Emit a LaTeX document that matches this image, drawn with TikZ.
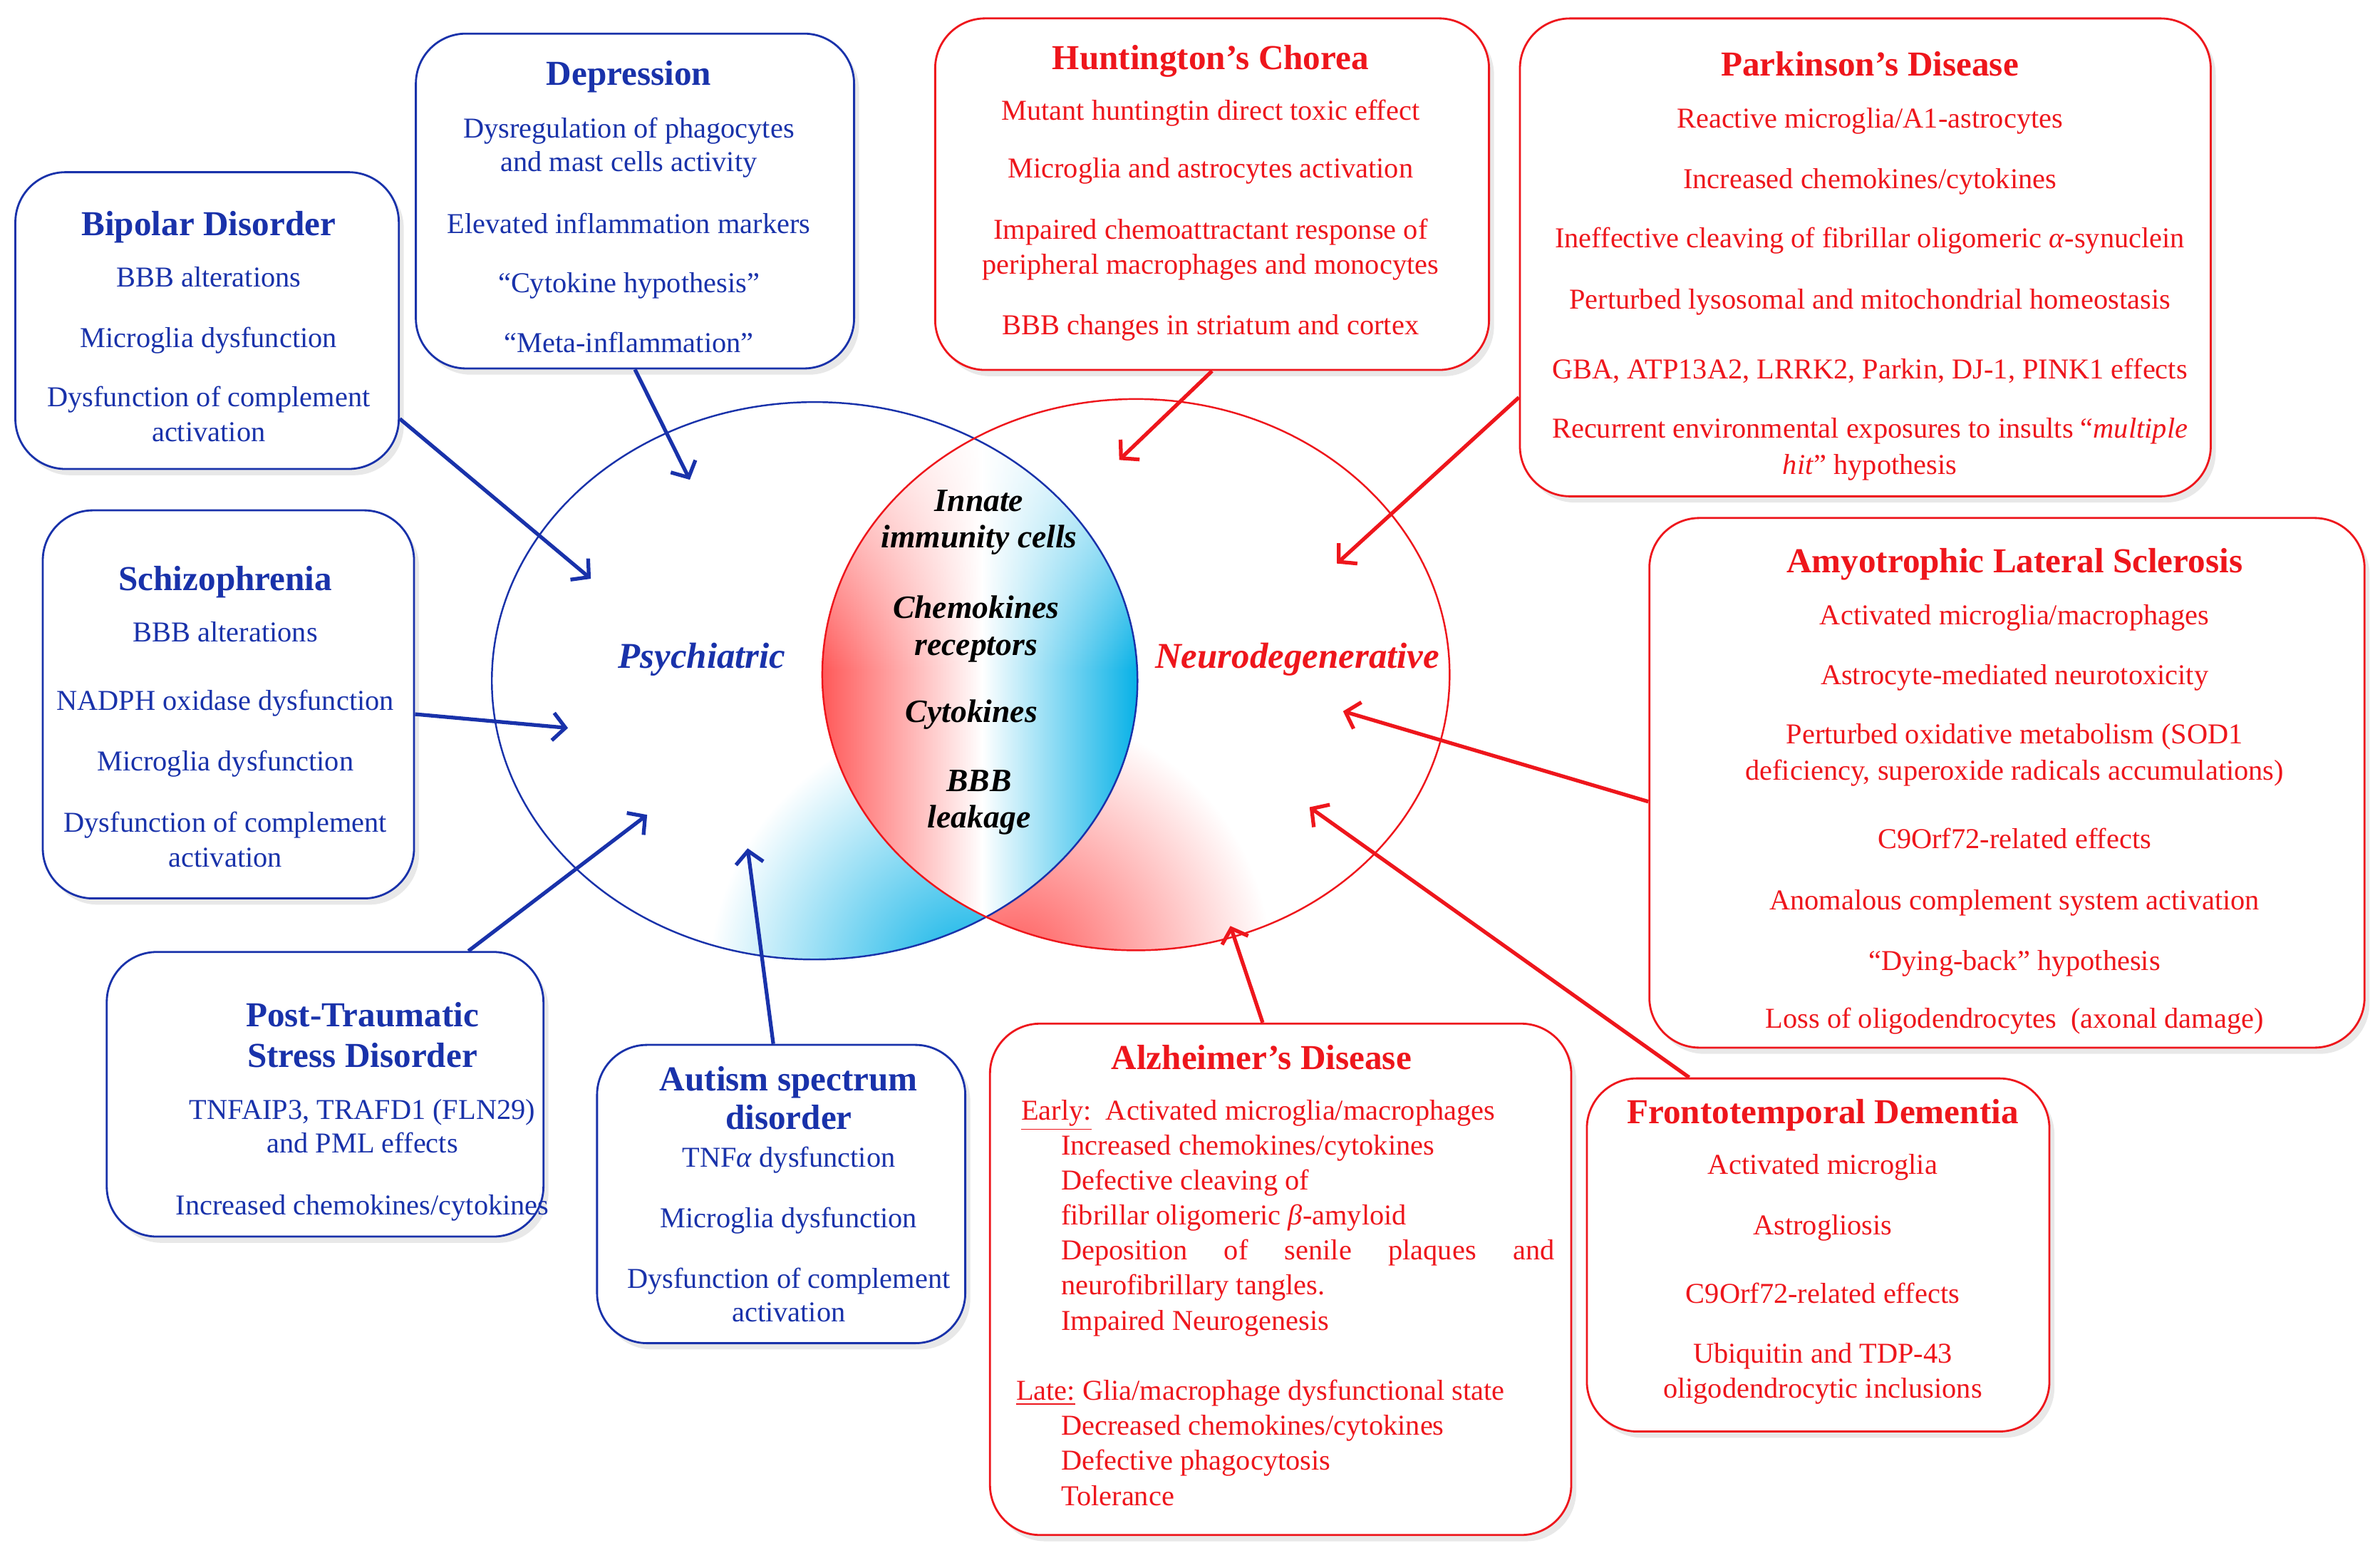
\documentclass[tikz,border=0pt]{standalone}
\usepackage{fontspec}
\setmainfont{Liberation Serif}
\usetikzlibrary{positioning, arrows.meta, shadows, fadings}
\definecolor{psyblue}{RGB}{25,50,170}
\definecolor{neured}{RGB}{238,22,28}
\definecolor{lenscyan}{RGB}{0,175,230}
\newcommand{\upx}{0.6078pt}
\newcommand{\boxtitle}[1]{{\fontsize{14}{17}\selectfont\bfseries #1}}
\tikzfading[name=lensfade, top color=transparent!0, bottom color=transparent!100]
\tikzset{
  pbox/.style={draw=psyblue, line width=0.8pt, rounded corners=20pt, fill=white,
    drop shadow={shadow xshift=2pt, shadow yshift=-2.5pt, opacity=0.18}},
  nbox/.style={pbox, draw=neured},
  ptxt/.style={inner sep=0pt, anchor=north, align=center, text=psyblue, font=\fontsize{11.5}{14}\selectfont},
  ntxt/.style={ptxt, text=neured},
  parrow/.style={draw=psyblue, line width=1.5pt, -{Straight Barb[length=5pt,width=11pt]}},
  narrow/.style={parrow, draw=neured},
  core/.style={font=\fontsize{13}{14.6}\selectfont\bfseries\itshape, align=center, inner sep=0pt},
  side/.style={font=\fontsize{14.5}{17}\selectfont\bfseries\itshape, inner sep=0pt}
}

\begin{document}
\begin{tikzpicture}[x=0.02137cm, y=-0.02137cm]
\useasboundingbox (0,0) rectangle (1563,1016.4);

\begin{scope}
\clip (535,447) ellipse [x radius=212, y radius=183];
\shade[inner color=lenscyan, outer color=white] (640,645) circle [radius=175];
\end{scope}
\begin{scope}
\clip (746,443) ellipse [x radius=206, y radius=181];
\shade[inner color=red!65, outer color=white] (665,635) circle [radius=170];
\end{scope}
\begin{scope}
\clip (535,447) ellipse [x radius=212, y radius=183];
\clip (746,443) ellipse [x radius=206, y radius=181];
\shade[left color=red!65, right color=lenscyan, middle color=white] (540,255) rectangle (750,635);
\fill[white, path fading=lensfade] (540,255) rectangle (750,440);
\end{scope}
\path[draw][psyblue, line width=0.7pt] (535,447) ellipse [x radius=212, y radius=183];
\path[draw][neured, line width=0.7pt] (746,443) ellipse [x radius=206, y radius=181];

\path (461,433) node[side, text=psyblue] (psy) {Psychiatric};
\path (852,433) node[side, text=neured] (neu) {Neurodegenerative};
\path (643,343) node[core] (innate) {Innate\\immunity cells};
\path (641,413) node[core] (chemo) {Chemokines\\receptors};
\path (638,469) node[core] (cyto) {Cytokines};
\path (643,527) node[core] (bbb) {BBB\\leakage};

\path (136,210.5) node[pbox, minimum width=252*\upx, minimum height=195*\upx] (bip) {};
\path (417,132) node[pbox, minimum width=288*\upx, minimum height=220*\upx] (dep) {};
\path (150,462.5) node[pbox, minimum width=244*\upx, minimum height=255*\upx] (sch) {};
\path (213.5,718.5) node[pbox, minimum width=287*\upx, minimum height=187*\upx] (ptsd) {};
\path (513,784) node[pbox, minimum width=242*\upx, minimum height=196*\upx] (aut) {};
\path (796,127.5) node[nbox, minimum width=364*\upx, minimum height=231*\upx] (hun) {};
\path (1225,169) node[nbox, minimum width=454*\upx, minimum height=314*\upx] (par) {};
\path (1318,514) node[nbox, minimum width=470*\upx, minimum height=348*\upx] (als) {};
\path (841,840) node[nbox, minimum width=382*\upx, minimum height=336*\upx] (alz) {};
\path (1194,824) node[nbox, minimum width=304*\upx, minimum height=232*\upx] (ftd) {};

\path (137,138.5) node[ptxt] (bip-t) {\boxtitle{Bipolar Disorder}\\[6.3pt]
  BBB alterations\\[10.3pt] Microglia dysfunction\\[9.7pt]
  Dysfunction of complement\\ activation};
\path (413,39.5) node[ptxt] (dep-t) {\boxtitle{Depression}\\[7pt]
  Dysregulation of phagocytes\\[-0.6pt] and mast cells activity\\[10.9pt]
  Elevated inflammation markers\\[9.7pt] “Cytokine hypothesis”\\[9.7pt]
  “Meta-inflammation”};
\path (148,371.5) node[ptxt] (sch-t) {\boxtitle{Schizophrenia}\\[6.3pt]
  BBB alterations\\[13.4pt] NADPH oxidase dysfunction\\[10.3pt]
  Microglia dysfunction\\[10.3pt] Dysfunction of complement\\ activation};
\path (238,658) node[ptxt] (ptsd-t) {\boxtitle{Post-Traumatic}\\[2.2pt]
  \boxtitle{Stress Disorder}\\[6.6pt] TNFAIP3, TRAFD1 (FLN29)\\[-0.6pt]
  and PML effects\\[10.9pt] Increased chemokines/cytokines};
\path (518,700) node[ptxt] (aut-t) {\boxtitle{Autism spectrum}\\[1.4pt]
  \boxtitle{disorder}\\[0.9pt] TNF\textit{α} dysfunction\\[10.3pt]
  Microglia dysfunction\\[10.3pt] Dysfunction of complement\\[-0.6pt] activation};
\path (795,29.5) node[ntxt] (hun-t) {\boxtitle{Huntington’s Chorea}\\[6.1pt]
  Mutant huntingtin direct toxic effect\\[9.1pt]
  Microglia and astrocytes activation\\[10.3pt]
  Impaired chemoattractant response of\\ peripheral macrophages and monocytes\\[10.3pt]
  BBB changes in striatum and cortex};
\path (1228,33.5) node[ntxt] (par-t) {\boxtitle{Parkinson’s Disease}\\[6.7pt]
  Reactive microglia/A1-astrocytes\\[10.3pt] Increased chemokines/cytokines\\[9.7pt]
  Ineffective cleaving of fibrillar oligomeric \textit{α}-synuclein\\[10.3pt]
  Perturbed lysosomal and mitochondrial homeostasis\\[14pt]
  GBA, ATP13A2, LRRK2, Parkin, DJ-1, PINK1 effects\\[9.7pt]
  Recurrent environmental exposures to insults “\textit{multiple}\\[0.3pt]
  \textit{hit}” hypothesis};
\path (1323,359.5) node[ntxt] (als-t) {\boxtitle{Amyotrophic Lateral Sclerosis}\\[7pt]
  Activated microglia/macrophages\\[9.7pt] Astrocyte-mediated neurotoxicity\\[9.7pt]
  Perturbed oxidative metabolism (SOD1\\[0.6pt]
  deficiency, superoxide radicals accumulations)\\[13.4pt]
  C9Orf72-related effects\\[10.3pt] Anomalous complement system activation\\[10.3pt]
  “Dying-back” hypothesis\\[9.1pt] Loss of oligodendrocytes~ (axonal damage)};
\path (667,686) node[ntxt, anchor=north west, align=left] (alz-t) {\makebox[196pt]{\boxtitle{Alzheimer’s Disease}}\\[6pt]
  \hspace*{2pt}\underline{Early:}~ Activated microglia/macrophages\\
  \hspace*{18pt}Increased chemokines/cytokines\\
  \hspace*{18pt}Defective cleaving of\\
  \hspace*{18pt}fibrillar oligomeric \textit{β}-amyloid\\
  \hspace*{18pt}\makebox[197pt][s]{Deposition of senile plaques and}\\
  \hspace*{18pt}neurofibrillary tangles.\\
  \hspace*{18pt}Impaired Neurogenesis\\[14pt]
  \underline{Late:} Glia/macrophage dysfunctional state\\
  \hspace*{18pt}Decreased chemokines/cytokines\\
  \hspace*{18pt}Defective phagocytosis\\
  \hspace*{18pt}Tolerance};
\path (1197,721.5) node[ntxt] (ftd-t) {\boxtitle{Frontotemporal Dementia}\\[6.1pt]
  Activated microglia\\[10.3pt] Astrogliosis\\[13.4pt]
  C9Orf72-related effects\\[9.7pt] Ubiquitin and TDP-43\\ oligodendrocytic inclusions};

\coordinate (bip-in) at (388,380);
\coordinate (dep-in) at (453,315);
\coordinate (sch-in) at (373,478);
\coordinate (ptsd-in) at (425,535);
\coordinate (aut-in) at (491,557);
\coordinate (hun-in) at (735,302);
\coordinate (par-in) at (878,370);
\coordinate (als-in) at (882,467);
\coordinate (ftd-in) at (860,530);
\coordinate (alz-in) at (808,608);

\path[draw][parrow] (bip.-27) -- (bip-in);
\path[draw][parrow] (dep.south) -- (dep-in);
\path[draw][parrow] (sch.-3) -- (sch-in);
\path[draw][parrow] (ptsd.45) -- (ptsd-in);
\path[draw][parrow] (aut.93) -- (aut-in);
\path[draw][narrow] (hun.south) -- (hun-in);
\path[draw][narrow] (par.202) -- (par-in);
\path[draw][narrow] (als.183) -- (als-in);
\path[draw][narrow] (ftd.126) -- (ftd-in);
\path[draw][narrow] (alz.94) -- (alz-in);
\end{tikzpicture}
\end{document}
